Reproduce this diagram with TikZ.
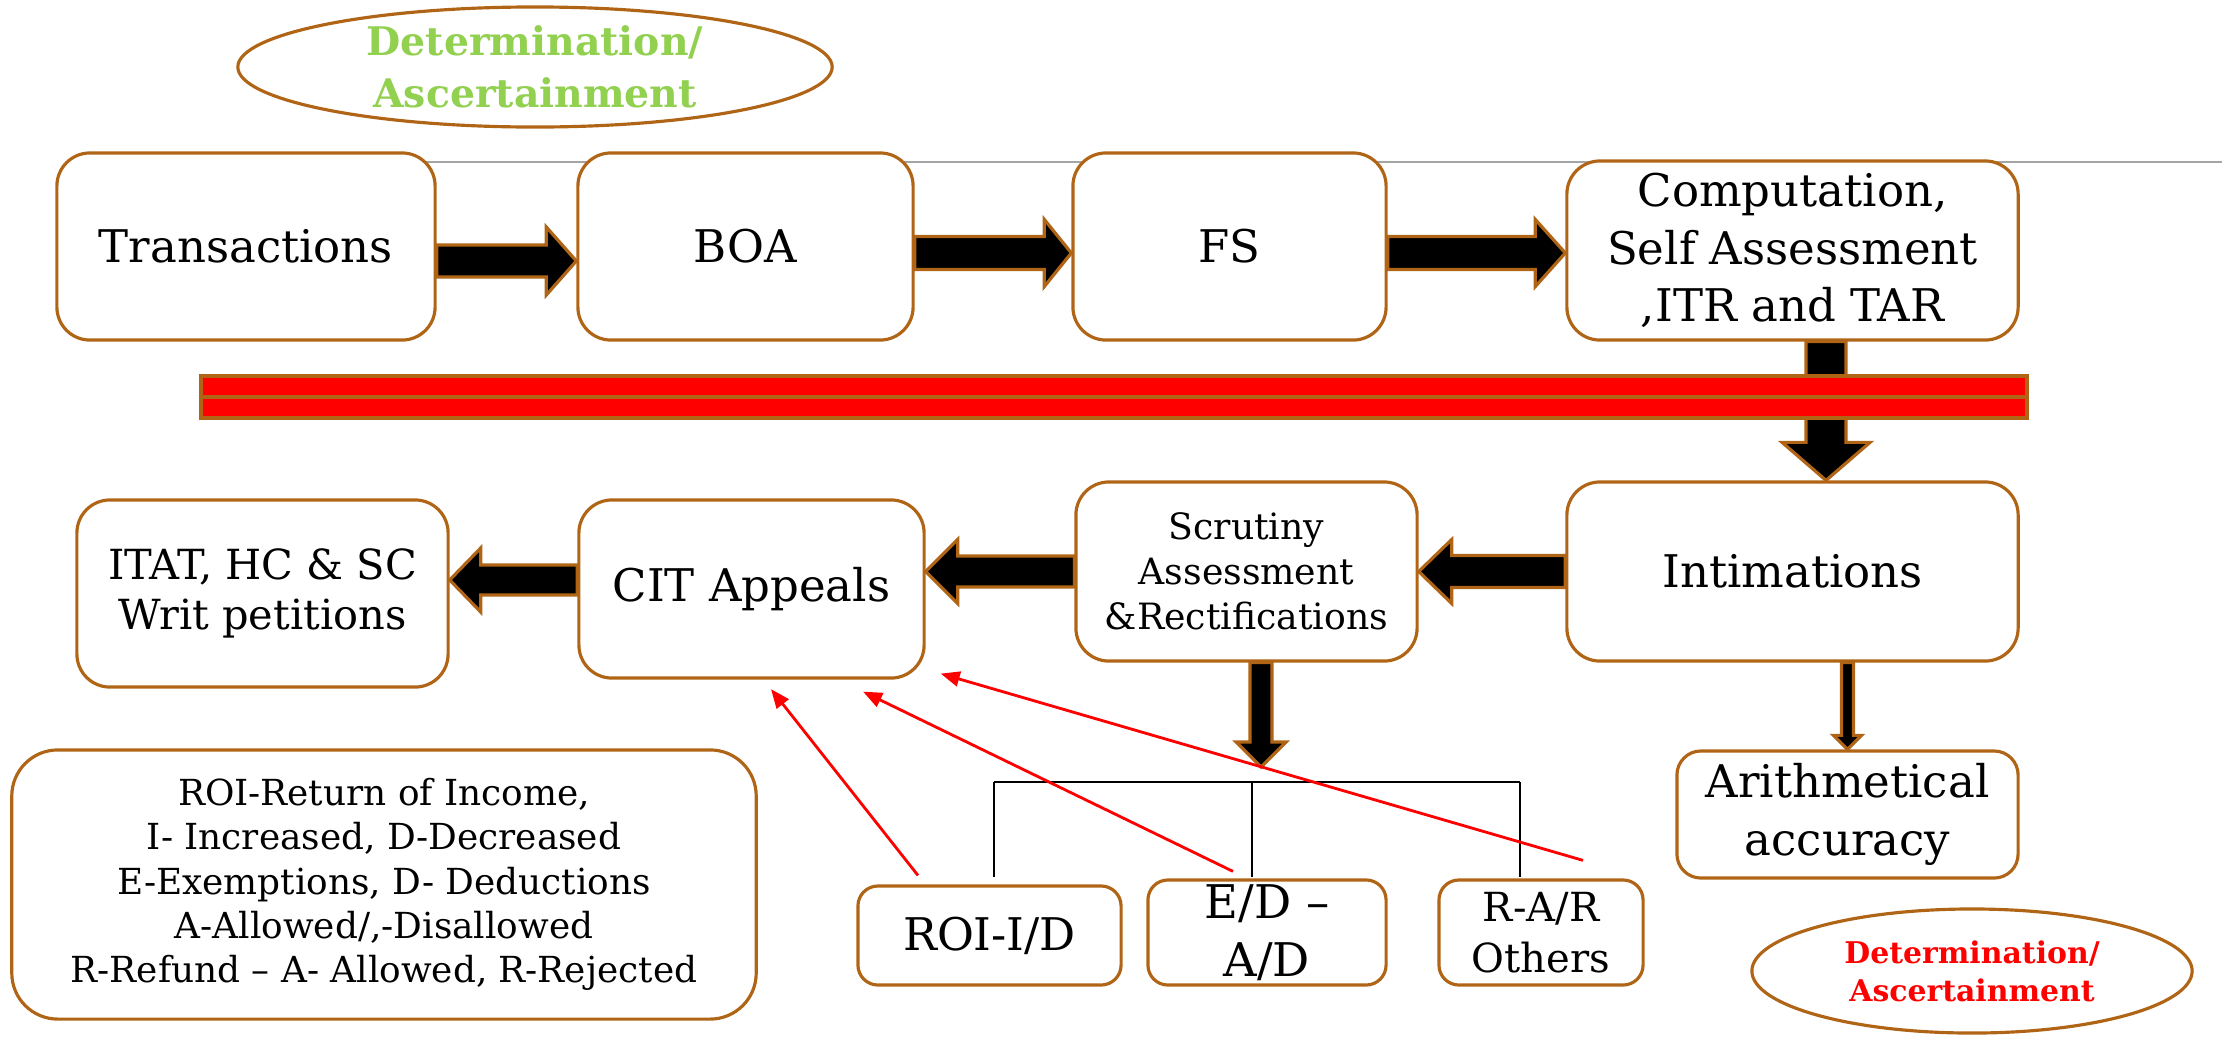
\documentclass[tikz,border=0pt]{standalone}
\usepackage{fontspec}
\setmainfont{DejaVu Serif}
\usetikzlibrary{shapes.geometric,arrows.meta,calc}

\definecolor{brn}{RGB}{176,101,22}
\definecolor{leaf}{RGB}{146,208,80}
\definecolor{rulegray}{RGB}{165,165,165}

% Horizontal block arrow: #1 tail point, #2 point whose x is the tip,
% #3 shaft half-width, #4 head half-width, #5 signed head length (+ points right)
\newcommand\hblock[5]{%
  \filldraw[blockarrow] let \p1=#1, \p2=#2 in
    ({\x1},{\y1+#3}) -- ({\x2-(#5)},{\y1+#3}) -- ({\x2-(#5)},{\y1+#4})
    -- ({\x2},{\y1}) -- ({\x2-(#5)},{\y1-#4}) -- ({\x2-(#5)},{\y1-#3})
    -- ({\x1},{\y1-#3}) -- cycle;}

% Vertical block arrow pointing down: #1 tail point, #2 point whose y is the tip,
% #3 shaft half-width, #4 head half-width, #5 head length
\newcommand\vblock[5]{%
  \filldraw[blockarrow] let \p1=#1, \p2=#2 in
    ({\x1-#3},{\y1}) -- ({\x1-#3},{\y2+#5}) -- ({\x1-#4},{\y2+#5})
    -- ({\x1},{\y2}) -- ({\x1+#4},{\y2+#5}) -- ({\x1+#3},{\y2+#5})
    -- ({\x1+#3},{\y1}) -- cycle;}

\begin{document}
\begin{tikzpicture}[x=0.01cm,y=-0.01cm,
  box/.style={draw=brn, line width=0.9pt, fill=white, rounded corners=0.33cm,
    align=center, inner sep=0pt, font=\fontsize{12.8pt}{16.4pt}\selectfont},
  smallbox/.style={box, rounded corners=0.2cm},
  oval/.style={ellipse, draw=brn, line width=0.9pt, fill=white, inner sep=0pt, align=center},
  blockarrow/.style={fill=black, draw=brn, line width=0.9pt, line join=miter},
  redarrow/.style={draw=red, line width=0.8pt, -{Triangle[length=0.19cm,width=0.15cm]}},
  bracket/.style={draw=black, line width=0.7pt},
  bar/.style={fill=red, draw=brn, line width=0.9pt},
]
\useasboundingbox (0,0) rectangle (2222,1036);

% banner oval
\node[oval, minimum width=5.94cm, minimum height=1.20cm, text=leaf,
  font=\bfseries\fontsize{11.2pt}{14.8pt}\selectfont] (topoval) at (535,67)
  {Determination/\\Ascertainment};

% thin grey rule behind the first row
\coordinate (rulestart) at (246,162);
\coordinate (ruleend) at (2222,162);
\draw[rulegray, line width=0.5pt] (rulestart) -- (ruleend);

% first row
\node[box, minimum width=3.78cm, minimum height=1.87cm] (trans) at (246,246.5) {Transactions};
\node[box, minimum width=3.35cm, minimum height=1.87cm] (boa) at (745.5,246.5) {BOA};
\node[box, minimum width=3.13cm, minimum height=1.87cm] (fs) at (1229.5,246.5) {FS};
\node[box, minimum width=4.51cm, minimum height=1.79cm] (comp) at (1792.5,250.5)
  {Computation,\\Self Assessment\\,ITR and TAR};

% second row
\node[box, minimum width=4.51cm, minimum height=1.79cm] (intim) at (1792.5,571.5) {Intimations};
\node[box, minimum width=3.41cm, minimum height=1.79cm, font=\fontsize{10.3pt}{12.8pt}\selectfont]
  (scrut) at (1246.5,571.5) {Scrutiny\\Assessment\\\&Rectifications};
\node[box, minimum width=3.45cm, minimum height=1.78cm] (cit) at (751.5,589) {CIT Appeals};
\node[box, minimum width=3.71cm, minimum height=1.87cm, font=\fontsize{11.8pt}{14.4pt}\selectfont]
  (itat) at (262.5,593.5) {ITAT, HC \& SC\\Writ petitions};

% lower part
\node[box, rounded corners=0.24cm, minimum width=3.41cm, minimum height=1.27cm,
  font=\fontsize{12.8pt}{16.6pt}\selectfont] (arith) at (1847.5,814.5) {Arithmetical\\accuracy};
\node[box, rounded corners=0.46cm, minimum width=7.44cm, minimum height=2.69cm,
  font=\fontsize{10.2pt}{12.6pt}\selectfont] (legend) at (384,884.5)
  {ROI-Return of Income,\\I- Increased, D-Decreased\\E-Exemptions, D- Deductions\\
   A-Allowed/,-Disallowed\\R-Refund – A- Allowed, R-Rejected};
\node[smallbox, minimum width=2.63cm, minimum height=0.99cm] (roi) at (989.5,935.5) {ROI-I/D};
\node[smallbox, minimum width=2.38cm, minimum height=1.05cm, font=\fontsize{13.2pt}{16.5pt}\selectfont]
  (ed) at (1267,932.5) {E/D –\\A/D};
\node[smallbox, minimum width=2.04cm, minimum height=1.05cm, font=\fontsize{11.4pt}{14.5pt}\selectfont]
  (rar) at (1541,932.5) {R-A/R\\Others};

\node[oval, minimum width=4.40cm, minimum height=1.24cm, text=red,
  font=\bfseries\fontsize{8.5pt}{10.8pt}\selectfont] (botoval) at (1972,971)
  {Determination/\\Ascertainment};

% block arrows of the first row
\hblock{([yshift=-0.145cm]trans.east)}{(boa.west)}{0.16cm}{0.34cm}{0.30cm}
\hblock{([yshift=-0.065cm]boa.east)}{(fs.west)}{0.165cm}{0.335cm}{0.27cm}
\hblock{([yshift=-0.065cm]fs.east)}{(comp.west)}{0.165cm}{0.335cm}{0.30cm}

% down from the computation box, crossing the red bar
\vblock{([xshift=0.335cm]comp.south)}{(intim.north)}{0.20cm}{0.44cm}{0.38cm}
\draw[bar] (201,376) rectangle (2027,397);
\draw[bar] (201,397) rectangle (2027,418);

% block arrows of the second row (pointing left)
\hblock{(intim.west)}{(scrut.east)}{0.16cm}{0.32cm}{-0.33cm}
\hblock{(scrut.west)}{(cit.east)}{0.155cm}{0.32cm}{-0.32cm}
\hblock{([yshift=0.09cm]cit.west)}{(itat.east)}{0.15cm}{0.32cm}{-0.31cm}

% outcome bracket below scrutiny
\coordinate (fork) at (1252,782);
\coordinate (forkl) at (994,782);
\coordinate (forkr) at (1520,782);
\vblock{([xshift=0.145cm]scrut.south)}{([yshift=0.15cm]fork)}{0.11cm}{0.25cm}{0.25cm}
\vblock{(arith.north |- intim.south)}{(arith.north)}{0.06cm}{0.14cm}{0.14cm}
\draw[bracket] (forkl) -- (forkr);
\draw[bracket] (forkl) -- ++(0,95);
\draw[bracket] (fork) -- ++(0,95);
\draw[bracket] (forkr) -- ++(0,95);

% appeals against each outcome
\draw[redarrow] ([xshift=-0.715cm,yshift=0.09cm]roi.north) -- ([xshift=0.195cm,yshift=-0.095cm]cit.south);
\draw[redarrow] ([xshift=-0.34cm,yshift=0.07cm]ed.north) -- ([xshift=1.115cm,yshift=-0.12cm]cit.south);
\draw[redarrow] ([xshift=0.42cm,yshift=0.18cm]rar.north) -- ([xshift=0.15cm,yshift=0.06cm]cit.south east);
\end{tikzpicture}
\end{document}
